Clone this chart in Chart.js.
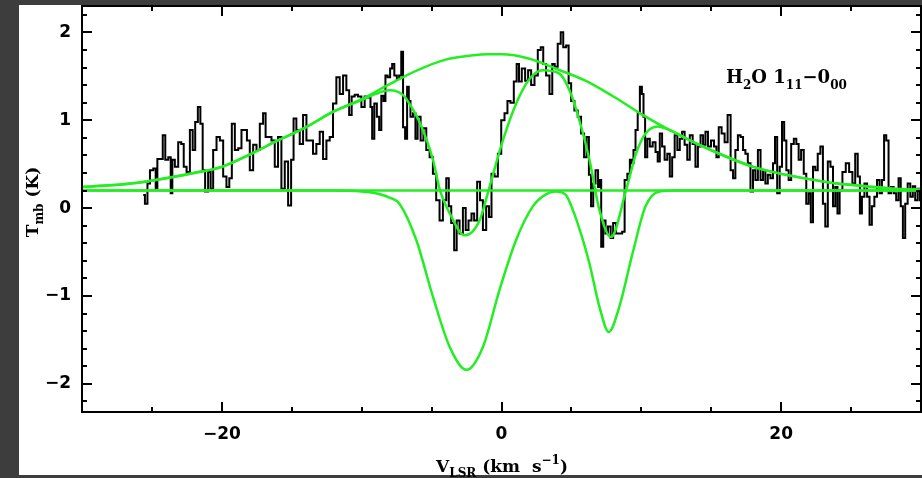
<!DOCTYPE html>
<html><head><meta charset="utf-8">
<script src="https://cdn.jsdelivr.net/npm/chart.js@4.4.1/dist/chart.umd.min.js"></script>
<style>html,body{margin:0;padding:0;background:#3d3d3d;overflow:hidden}canvas{display:block}</style>
</head><body><canvas id="c" width="922" height="478"></canvas>
<script>
// ---- observed spectrum (V_LSR in km/s, T_mb in K) ----
const velocity = [
-25.62,-25.38,-25.26,-25.02,-24.79,-24.67,-24.55,-24.31,-24.14,-23.95,-23.71,-23.6,-23.48,-23.24,-23.0,-22.81,-22.64,-22.4,-22.17,-22.0,
-21.81,-21.62,-21.45,-21.29,-21.1,-20.86,-20.74,-20.5,-20.26,-20.02,-19.79,-19.55,-19.38,-19.19,-18.95,-18.71,-18.48,-18.29,-18.12,-17.88,
-17.64,-17.4,-17.17,-16.93,-16.81,-16.57,-16.33,-16.1,-15.86,-15.62,-15.38,-15.14,-14.95,-14.79,-14.55,-14.31,-14.07,-13.83,-13.6,-13.36,
-13.12,-12.88,-12.64,-12.4,-12.17,-11.93,-11.69,-11.45,-11.21,-10.98,-10.81,-10.62,-10.38,-10.14,-9.9,-9.67,
-9.43,-9.31,-9.19,-9.0,-8.83,-8.67,-8.52,-8.36,-8.24,-8.05,-7.88,-7.76,-7.57,-7.4,-7.24,-7.1,-6.98,-6.81,-6.69,-6.57,
-6.45,-6.21,-6.1,-5.9,-5.67,-5.5,-5.26,-5.02,-4.79,-4.55,-4.31,-4.07,-3.83,-3.71,-3.48,-3.29,-3.12,-2.88,-2.64,-2.48,
-2.24,-2.05,-1.86,-1.62,-1.45,-1.21,-0.98,-0.81,-0.62,-0.38,-0.14,0.1,0.33,0.52,0.76,1.0,1.17,1.33,1.57,1.81,
2.0,2.24,2.48,2.71,2.9,3.07,3.31,3.55,3.71,3.9,4.14,4.33,4.5,4.74,4.86,5.1,5.33,5.57,5.81,6.0,
6.17,6.33,6.48,6.64,6.81,7.0,
7.07,7.19,7.36,7.52,7.71,7.9,8.07,8.31,8.55,8.71,8.9,9.1,9.26,9.38,9.5,9.67,9.81,9.98,10.1,10.21,
10.33,10.52,10.69,10.93,11.1,11.24,11.4,11.57,11.76,11.95,12.12,12.29,12.48,12.67,12.83,13.0,13.19,13.38,13.55,13.79,
13.95,14.14,14.33,14.5,14.67,14.86,15.1,15.29,15.45,15.62,15.86,16.05,16.29,16.48,16.64,16.81,17.0,17.19,17.36,17.52,
17.71,17.9,18.07,18.24,18.43,18.62,18.79,18.95,19.14,19.33,19.5,19.62,19.81,19.98,20.14,20.29,20.45,20.62,20.81,21.0,
21.17,21.33,21.52,21.71,21.88,22.05,22.19,22.36,22.52,
22.71,22.9,23.07,23.24,23.43,23.62,23.79,23.95,24.1,24.26,24.5,24.74,24.98,25.21,25.38,25.57,25.69,25.86,26.05,26.24,
26.4,26.57,26.76,26.95,27.12,27.29,27.43,27.6,27.76,27.95,28.14,28.31,28.48,28.62,28.79,28.95,29.14,29.33,29.5,29.67,
29.86,30.0];
const tmb = [
0.15,0.05,0.28,0.43,0.45,0.22,0.56,0.56,0.83,0.55,0.58,0.17,0.55,0.47,0.75,0.73,0.47,0.41,0.89,0.66,
0.98,1.15,0.96,0.43,0.19,0.41,0.22,0.66,0.81,0.77,0.36,0.24,0.34,0.96,0.66,0.68,0.89,0.89,0.77,0.43,
0.72,0.66,0.96,1.08,0.81,0.81,0.77,0.47,0.81,0.22,0.53,0.03,0.55,1.02,0.89,0.73,1.06,0.77,0.77,0.62,
0.73,0.87,0.56,0.77,0.81,1.19,1.49,1.3,1.51,1.34,1.06,1.27,1.29,1.27,1.15,1.27,
1.26,1.15,0.79,1.19,1.04,0.89,1.28,1.22,1.51,1.49,1.59,1.64,1.51,1.47,1.51,1.78,0.92,0.79,1.38,1.22,
1.04,1.08,0.79,1.04,0.77,0.91,0.66,0.58,0.39,0.09,-0.14,0.09,0.34,0.02,-0.17,-0.48,-0.14,-0.29,0.0,-0.25,
-0.14,-0.06,-0.14,0.3,0.09,-0.25,0.02,-0.1,0.39,0.36,0.62,1.0,1.08,1.22,1.2,1.44,1.64,1.44,1.59,1.45,
1.57,1.4,1.51,1.8,1.83,1.64,1.51,1.3,1.64,1.61,1.87,2.0,1.83,1.85,1.42,1.22,1.11,1.04,0.85,0.58,
0.81,0.38,0.02,0.28,0.43,0.24,
0.32,-0.44,-0.14,-0.29,-0.21,-0.34,-0.17,-0.29,-0.29,-0.27,0.32,0.39,0.55,0.51,0.66,0.89,1.08,1.38,1.3,1.04,
0.58,0.79,0.7,0.75,0.64,0.53,0.85,0.7,0.55,0.62,0.36,0.58,0.83,0.66,0.79,0.87,0.72,0.55,0.83,0.73,
0.47,0.7,0.83,0.72,0.87,0.7,0.77,0.7,0.58,0.92,0.85,0.75,1.06,0.43,0.34,0.66,0.83,0.81,0.66,0.62,
0.51,0.19,0.43,0.32,0.66,0.32,0.43,0.28,0.38,0.34,0.51,0.81,0.17,0.47,0.98,0.77,0.43,0.32,0.73,0.79,
0.73,0.55,0.66,0.39,0.05,0.17,-0.16,0.47,0.43,
0.62,0.7,0.05,-0.21,0.53,0.47,0.02,0.24,-0.06,0.2,0.41,0.51,0.41,0.28,0.62,0.36,-0.06,0.13,0.28,0.13,
-0.19,0.02,0.13,0.32,0.17,0.32,0.83,0.77,0.17,0.24,0.17,0.09,0.34,0.02,-0.34,0.05,0.28,0.13,0.25,0.09,
0.22,0.09];

// ---- fitted components ----
const baselineV = [-30, 30];
const baselineT = [0.2, 0.2];

const broadV = [-30,-28,-26,-24,-22,-20,-18,-16,-14,-12,-10,-8,-6,-4,-2,-1,0,2,4,6,8,10,12,14,16,18,20,22,24,26,28,30];
const broadT = [0.24,0.26,0.29,0.34,0.40,0.47,0.61,0.77,0.92,1.10,1.24,1.41,1.57,1.69,1.74,1.75,1.75,1.70,1.58,1.45,1.27,1.07,0.89,0.73,0.59,0.47,0.39,0.33,0.28,0.25,0.22,0.21];

const absV = [-30,-12,-10,-9,-8,-7.3,-6.1,-4.9,-3.7,-2.5,-1.33,-0.14,1.05,2.24,3.2,3.9,4.6,5.1,5.7,6.29,7.0,7.67,8.43,9.38,10.3,11.3,12.5,30];
const absT = [0.2,0.2,0.19,0.17,0.12,0.05,-0.36,-1.01,-1.58,-1.84,-1.58,-0.93,-0.36,0.02,0.16,0.19,0.15,-0.02,-0.3,-0.63,-1.12,-1.41,-1.12,-0.51,0.02,0.19,0.2,0.2];

const totalV = [-30,-28,-26,-24,-22,-20,-18,-16,-14,-12,-10,-9,-8,-7,-6.33,-5.86,-4.9,-4.43,-3.7,-2.64,-1.57,-0.86,0.1,1.05,2.0,2.95,4.14,4.86,5.57,6.29,7.0,7.83,8.9,9.62,10.3,11.17,12,14,16,18,20,22,24,26,28,30];
const totalT = [0.24,0.26,0.29,0.34,0.40,0.47,0.61,0.77,0.92,1.10,1.23,1.30,1.34,1.28,1.12,0.98,0.55,0.22,-0.06,-0.31,-0.14,0.24,0.77,1.19,1.47,1.57,1.53,1.34,1.0,0.55,-0.02,-0.33,0.2,0.62,0.85,0.93,0.89,0.73,0.59,0.47,0.39,0.33,0.28,0.25,0.22,0.21];

// ---- axis tick labels ----
const xTickLabels = [-20, 0, 20];
const yTickLabels = [-2, -1, 0, 1, 2];

const pts = (xs, ys) => xs.map((x, i) => ({x, y: ys[i]}));
const fmt = v => (v < 0 ? '\u2212' + Math.abs(v) : String(v));
const GREEN = '#22ee22';

function richText(ctx, parts, size, family, weight) {
  const fontFor = m => `${weight} ${m ? Math.round(size * 0.68) : size}px ${family}`;
  let w = 0;
  const ws = parts.map(([t, m]) => { ctx.font = fontFor(m); const mw = ctx.measureText(t).width; w += mw; return mw; });
  return {w, draw(x, y) {
    let cx = x;
    parts.forEach(([t, m], i) => {
      ctx.font = fontFor(m);
      const dy = m === 1 ? size * 0.32 : (m === 2 ? -size * 0.45 : 0);
      ctx.fillText(t, cx, y + dy);
      cx += ws[i];
    });
  }};
}

function fixBox(s, size, isX) {
  if (isX) s.height = size; else s.width = size;
  s.paddingTop = 0; s.paddingBottom = 0; s.paddingLeft = 0; s.paddingRight = 0;
}

const decor = {
  id: 'decor',
  beforeDraw(chart) {
    const c = chart.ctx;
    c.save();
    c.fillStyle = '#3d3d3d'; c.fillRect(0, 0, chart.width, chart.height);
    c.fillStyle = '#ffffff'; c.fillRect(19, 5, chart.width - 19, 470);
    c.restore();
  },
  afterDatasetsDraw(chart) {
    const c = chart.ctx, a = chart.chartArea, xs = chart.scales.x, ys = chart.scales.y;
    c.save();
    c.strokeStyle = '#000'; c.lineWidth = 2;
    c.strokeRect(a.left, a.top, a.right - a.left, a.bottom - a.top);
    c.beginPath();
    for (let v = -25; v <= 25; v += 5) {
      const px = Math.round(xs.getPixelForValue(v));
      const L = (v % 20 === 0) ? 10 : 5;
      c.moveTo(px, a.bottom); c.lineTo(px, a.bottom - L);
      c.moveTo(px, a.top); c.lineTo(px, a.top + L);
    }
    for (let k = -11; k <= 11; k++) {
      const v = k * 0.2;
      const py = Math.round(ys.getPixelForValue(v));
      const L = (k % 5 === 0) ? 10 : 5;
      c.moveTo(a.left, py); c.lineTo(a.left + L, py);
      c.moveTo(a.right, py); c.lineTo(a.right - L, py);
    }
    c.stroke();
    c.restore();
  },
  afterDraw(chart) {
    const c = chart.ctx;
    c.save();
    c.fillStyle = '#000';
    c.textBaseline = 'alphabetic';
    const xt = richText(c, [['V', 0], ['LSR', 1], [' (km  s', 0], ['\u22121', 2], [')', 0]], 17, '"DejaVu Serif"', 'bold');
    xt.draw(502 - xt.w / 2, 472);
    const yt = richText(c, [['T', 0], ['mb', 1], [' (K)', 0]], 17, '"DejaVu Serif"', 'bold');
    c.save();
    c.translate(38, 202);
    c.rotate(-Math.PI / 2);
    yt.draw(-yt.w / 2, 0);
    c.restore();
    const lt = richText(c, [['H', 0], ['2', 1], ['O 1', 0], ['11', 1], ['\u22120', 0], ['00', 1]], 18, '"DejaVu Serif"', 'bold');
    lt.draw(726, 83);
    c.restore();
  }
};

new Chart(document.getElementById('c'), {
  type: 'line',
  data: {
    datasets: [
      {data: pts(totalV, totalT), borderColor: GREEN, borderWidth: 2.5, cubicInterpolationMode: 'monotone', order: 1},
      {data: pts(absV, absT), borderColor: GREEN, borderWidth: 2.5, cubicInterpolationMode: 'monotone', order: 2},
      {data: pts(broadV, broadT), borderColor: GREEN, borderWidth: 2.5, cubicInterpolationMode: 'monotone', order: 3},
      {data: pts(baselineV, baselineT), borderColor: GREEN, borderWidth: 2.5, order: 4},
      {data: pts(velocity, tmb), borderColor: '#000', borderWidth: 2, stepped: 'middle', order: 10}
    ]
  },
  options: {
    responsive: false, animation: false, devicePixelRatio: 1,
    layout: {padding: {left: 0, right: 1, top: 6, bottom: 0}},
    plugins: {legend: {display: false}, tooltip: {enabled: false}},
    elements: {point: {radius: 0}, line: {fill: false}},
    scales: {
      x: {
        type: 'linear', min: -30, max: 30,
        afterFit(s) { fixBox(s, 66, true); },
        grid: {display: false, drawTicks: false}, border: {display: false},
        ticks: {stepSize: 5, autoSkip: false, maxRotation: 0, padding: 12, color: '#000',
          font: {family: '"DejaVu Sans"', size: 17, weight: 'bold'},
          callback: v => xTickLabels.includes(v) ? fmt(v) : ''}
      },
      y: {
        type: 'linear', min: -2.32, max: 2.3,
        afterFit(s) { fixBox(s, 82, false); },
        grid: {display: false, drawTicks: false}, border: {display: false},
        ticks: {stepSize: 1, autoSkip: false, padding: 11, color: '#000',
          font: {family: '"DejaVu Sans"', size: 17, weight: 'bold'},
          callback: v => { const r = Math.round(v); return (Math.abs(v - r) < 1e-6 && yTickLabels.includes(r)) ? fmt(r) : ''; }}
      }
    }
  },
  plugins: [decor]
});
</script>
</body></html>
